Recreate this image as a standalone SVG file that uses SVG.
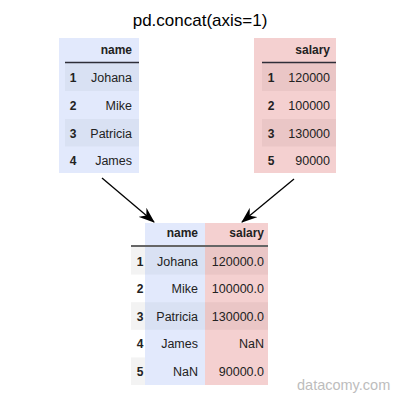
<svg xmlns="http://www.w3.org/2000/svg" width="400" height="400" viewBox="0 0 400 400">
<style>
  text { font-family: "Liberation Sans", Arial, sans-serif; font-size: 12.5px; fill: #222; }
  .title { font-size: 17px; fill: #000; text-anchor: middle; }
  .hdr { font-weight: bold; text-anchor: end; font-size: 12px; }
  .idx { font-weight: bold; text-anchor: middle; font-size: 12px; }
  .val { text-anchor: end; }
  .wm { font-size: 14.5px; fill: #bdbdbd; }
  .blue { fill: #e2e9fc; }
  .blueS { fill: #d9e1f3; }
  .red { fill: #f4d0d0; }
  .redS { fill: #eac6c6; }
  .grayS { fill: #f3f3f3; }
  .hline { stroke: #2e2e38; stroke-width: 1.5; }
  .hline2 { stroke: #666; stroke-width: 2; }
  .arrow { stroke: #000; stroke-width: 1.3; fill: none; }
</style>
<defs>
  <marker id="ah" viewBox="0 0 16 12" refX="15" refY="6" markerWidth="16" markerHeight="12" markerUnits="userSpaceOnUse" orient="auto">
    <path d="M0,0 L16,6 L0,12 L5,6 z" fill="#000"/>
  </marker>
</defs>

<text class="title" x="200" y="26">pd.concat(axis=1)</text>

<g id="left-table">
  <rect class="blue" x="59" y="38" width="80" height="135"/>
  <rect class="blueS" x="65" y="63" width="74" height="28"/>
  <rect class="blueS" x="65" y="119" width="74" height="27.5"/>
  <line class="hline" x1="65" y1="62.5" x2="139" y2="62.5"/>
  <text class="hdr" x="132" y="54">name</text>
  <text class="idx" x="73" y="81.5">1</text><text class="val" x="132" y="81.5">Johana</text>
  <text class="idx" x="73" y="109.5">2</text><text class="val" x="132" y="109.5">Mike</text>
  <text class="idx" x="73" y="137.5">3</text><text class="val" x="132" y="137.5">Patricia</text>
  <text class="idx" x="73" y="164.5">4</text><text class="val" x="132" y="164.5">James</text>
</g>

<g id="right-table">
  <rect class="red" x="254" y="38" width="82" height="135"/>
  <rect class="redS" x="262" y="63" width="74" height="28"/>
  <rect class="redS" x="262" y="119" width="74" height="27.5"/>
  <line class="hline" x1="262" y1="62.5" x2="336" y2="62.5"/>
  <text class="hdr" x="330" y="54">salary</text>
  <text class="idx" x="271" y="81.5">1</text><text class="val" x="330" y="81.5">120000</text>
  <text class="idx" x="271" y="109.5">2</text><text class="val" x="330" y="109.5">100000</text>
  <text class="idx" x="271" y="137.5">3</text><text class="val" x="330" y="137.5">130000</text>
  <text class="idx" x="271" y="164.5">5</text><text class="val" x="330" y="164.5">90000</text>
</g>

<g id="result-table">
  <rect class="blue" x="145" y="223" width="60" height="162"/>
  <rect class="red" x="205" y="223" width="63" height="162"/>
  <rect class="grayS" x="131" y="247" width="14" height="27.6"/>
  <rect class="blueS" x="145" y="247" width="60" height="27.6"/>
  <rect class="redS" x="205" y="247" width="63" height="27.6"/>
  <rect class="grayS" x="131" y="302.2" width="14" height="27.6"/>
  <rect class="blueS" x="145" y="302.2" width="60" height="27.6"/>
  <rect class="redS" x="205" y="302.2" width="63" height="27.6"/>
  <rect class="grayS" x="131" y="357.4" width="14" height="27.6"/>
  <line class="hline2" x1="131" y1="246" x2="268" y2="246"/>
  <text class="hdr" x="198" y="237">name</text>
  <text class="hdr" x="264" y="237">salary</text>
  <text class="idx" x="140" y="265.5">1</text><text class="val" x="198" y="265.5">Johana</text><text class="val" x="264" y="265.5">120000.0</text>
  <text class="idx" x="140" y="293">2</text><text class="val" x="198" y="293">Mike</text><text class="val" x="264" y="293">100000.0</text>
  <text class="idx" x="140" y="320.5">3</text><text class="val" x="198" y="320.5">Patricia</text><text class="val" x="264" y="320.5">130000.0</text>
  <text class="idx" x="140" y="348">4</text><text class="val" x="198" y="348">James</text><text class="val" x="264" y="348">NaN</text>
  <text class="idx" x="140" y="375.5">5</text><text class="val" x="198" y="375.5">NaN</text><text class="val" x="264" y="375.5">90000.0</text>
</g>

<g id="connectors">
  <line class="arrow" x1="102" y1="178" x2="154" y2="222" marker-end="url(#ah)"/>
  <line class="arrow" x1="294" y1="179" x2="242" y2="222" marker-end="url(#ah)"/>
</g>

<text class="wm" x="297" y="390">datacomy.com</text>
</svg>
